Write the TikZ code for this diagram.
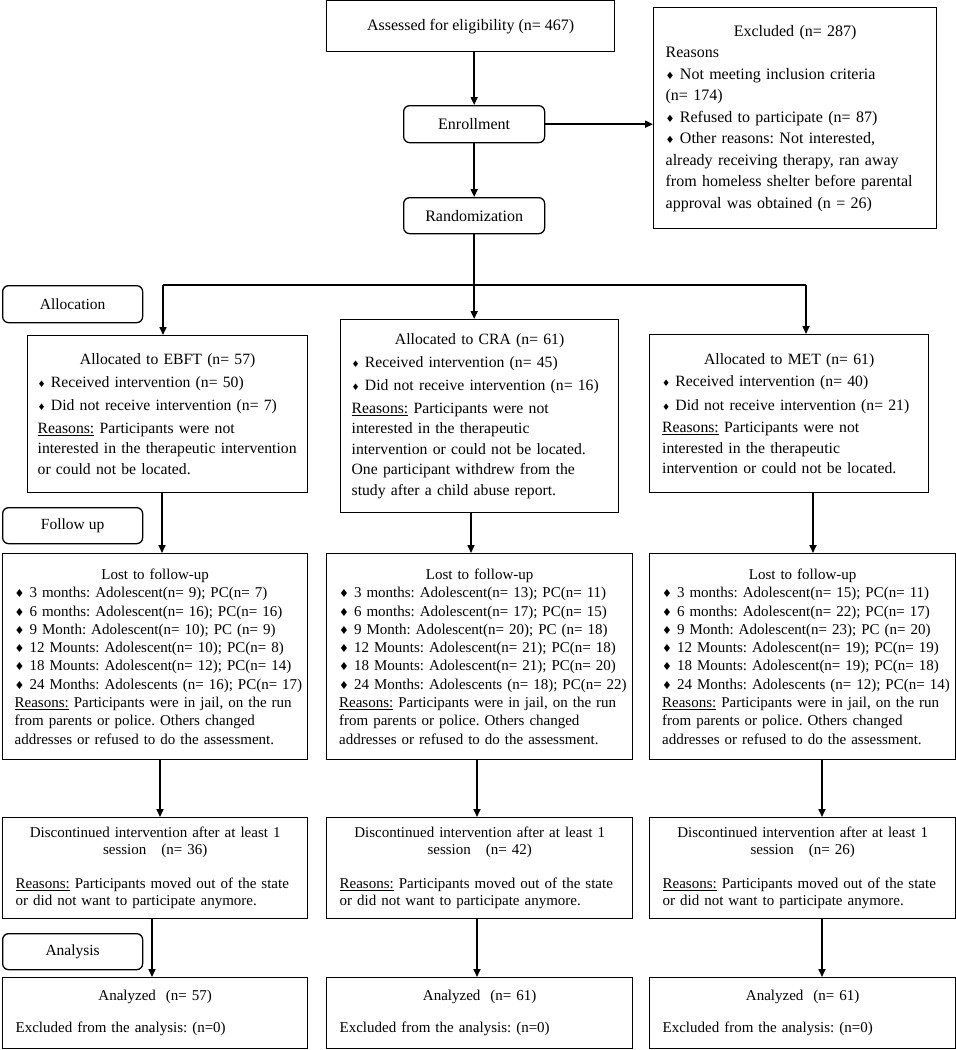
\documentclass[tikz,border=0pt]{standalone}
\usepackage{fontspec}
\setmainfont{Liberation Serif}
\newfontfamily\symf{DejaVu Sans}
\usetikzlibrary{arrows.meta}
\newcommand\dia[1]{{\symf\fontsize{#1}{#1}\selectfont ♦}}
\newcommand\cl[1]{\makebox[\linewidth]{#1}}
\frenchspacing
\begin{document}
\begin{tikzpicture}[x=1pt,y=-1pt,
 box/.style={draw,line width=1.3pt,anchor=north west,inner sep=0pt,align=left},
 lbl/.style={draw,line width=1.3pt,rounded corners=6pt,anchor=north west,inner sep=0pt,align=center,font=\fontsize{15.5}{18}\selectfont},
 arr/.style={line width=1.6pt,-{Triangle[width=7pt,length=8pt]}},
 ln/.style={line width=1.6pt},
 top/.style={font=\fontsize{16}{21.5}\selectfont},
 alc/.style={font=\fontsize{15.7}{20.5}\selectfont},
 low/.style={font=\fontsize{15}{18.3}\selectfont},
 dis/.style={font=\fontsize{15}{17}\selectfont}]
\useasboundingbox (0,0) rectangle (956,1050);

% top
\node[box,top,align=center,minimum width=288pt,minimum height=51pt] (assess) at (326,0) {Assessed for eligibility (n= 467)};
\node[box,top,minimum width=283pt,minimum height=221pt,text width=259pt] (excl) at (653,7) {%
\cl{Excluded (n= 287)}\\
Reasons\\
\dia{10} Not meeting inclusion criteria\\
(n= 174)\\
\dia{10} Refused to participate (n= 87)\\
\dia{10} Other reasons: Not interested,\\
already receiving therapy, ran away\\
from homeless shelter before parental\\
approval was obtained (n = 26)};
\node[lbl,font=\fontsize{16}{18}\selectfont,minimum width=141pt,minimum height=37pt] (enroll) at (403,105) {Enrollment};
\node[lbl,font=\fontsize{16}{18}\selectfont,minimum width=141pt,minimum height=36pt] (rand) at (403,197) {Randomization};

% allocation
\node[lbl,minimum width=140pt,minimum height=37pt] (lalloc) at (2,285) {Allocation};
\node[box,alc,minimum width=280pt,minimum height=157pt,text width=260pt] (ebft) at (27,335) {%
\cl{Allocated to EBFT (n= 57)}\\[2pt]
\dia{9} Received intervention (n= 50)\\[3pt]
\dia{9} Did not receive intervention (n= 7)\\[2pt]
\underline{Reasons:} Participants were not\\
interested in the therapeutic intervention\\
or could not be located.};
\node[box,alc,minimum width=278pt,minimum height=193pt,text width=256pt] (cra) at (340,319) {%
\cl{Allocated to CRA (n= 61)}\\[2pt]
\dia{9} Received intervention (n= 45)\\[3pt]
\dia{9} Did not receive intervention (n= 16)\\[2pt]
\underline{Reasons:} Participants were not\\
interested in the therapeutic\\
intervention or could not be located.\\
One participant withdrew from the\\
study after a child abuse report.};
\node[box,alc,minimum width=279pt,minimum height=158pt,text width=254pt] (met) at (649,334) {%
\cl{Allocated to MET (n= 61)}\\[2pt]
\dia{9} Received intervention (n= 40)\\[3pt]
\dia{9} Did not receive intervention (n= 21)\\[2pt]
\underline{Reasons:} Participants were not\\
interested in the therapeutic\\
intervention or could not be located.};

% follow up
\node[lbl,minimum width=140pt,minimum height=36pt] (lfollow) at (2,507) {Follow up};
\node[box,low,minimum width=305pt,minimum height=206pt,text width=281pt] (lost1) at (2,553) {%
\cl{Lost to follow-up}\\
\mbox{\dia{11} 3 months: Adolescent(n= 9); PC(n= 7)}\\
\mbox{\dia{11} 6 months: Adolescent(n= 16); PC(n= 16)}\\
\mbox{\dia{11} 9 Month: Adolescent(n= 10); PC (n= 9)}\\
\mbox{\dia{11} 12 Mounts: Adolescent(n= 10); PC(n= 8)}\\
\mbox{\dia{11} 18 Mounts: Adolescent(n= 12); PC(n= 14)}\\
\mbox{\dia{11} 24 Months: Adolescents (n= 16); PC(n= 17)}\\
\mbox{\underline{Reasons:} Participants were in jail, on the run}\\
from parents or police. Others changed\\
\mbox{addresses or refused to do the assessment.}};
\node[box,low,minimum width=306pt,minimum height=206pt,text width=281pt] (lost2) at (326,553) {%
\cl{Lost to follow-up}\\
\mbox{\dia{11} 3 months: Adolescent(n= 13); PC(n= 11)}\\
\mbox{\dia{11} 6 months: Adolescent(n= 17); PC(n= 15)}\\
\mbox{\dia{11} 9 Month: Adolescent(n= 20); PC (n= 18)}\\
\mbox{\dia{11} 12 Mounts: Adolescent(n= 21); PC(n= 18)}\\
\mbox{\dia{11} 18 Mounts: Adolescent(n= 21); PC(n= 20)}\\
\mbox{\dia{11} 24 Months: Adolescents (n= 18); PC(n= 22)}\\
\mbox{\underline{Reasons:} Participants were in jail, on the run}\\
from parents or police. Others changed\\
\mbox{addresses or refused to do the assessment.}};
\node[box,low,minimum width=306pt,minimum height=206pt,text width=281pt] (lost3) at (649,553) {%
\cl{Lost to follow-up}\\
\mbox{\dia{11} 3 months: Adolescent(n= 15); PC(n= 11)}\\
\mbox{\dia{11} 6 months: Adolescent(n= 22); PC(n= 17)}\\
\mbox{\dia{11} 9 Month: Adolescent(n= 23); PC (n= 20)}\\
\mbox{\dia{11} 12 Mounts: Adolescent(n= 19); PC(n= 19)}\\
\mbox{\dia{11} 18 Mounts: Adolescent(n= 19); PC(n= 18)}\\
\mbox{\dia{11} 24 Months: Adolescents (n= 12); PC(n= 14)}\\
\mbox{\underline{Reasons:} Participants were in jail, on the run}\\
from parents or police. Others changed\\
\mbox{addresses or refused to do the assessment.}};

% discontinued
\node[box,dis,minimum width=305pt,minimum height=101pt,text width=279pt] (disc1) at (2,817) {%
\cl{Discontinued intervention after at least 1}\\
\cl{session\ \ \ (n= 36)}\\[17pt]
\underline{Reasons:} Participants moved out of the state\\
or did not want to participate anymore.};
\node[box,dis,minimum width=306pt,minimum height=101pt,text width=280pt] (disc2) at (326,817) {%
\cl{Discontinued intervention after at least 1}\\
\cl{session\ \ \ (n= 42)}\\[17pt]
\underline{Reasons:} Participants moved out of the state\\
or did not want to participate anymore.};
\node[box,dis,minimum width=306pt,minimum height=101pt,text width=280pt] (disc3) at (649,817) {%
\cl{Discontinued intervention after at least 1}\\
\cl{session\ \ \ (n= 26)}\\[17pt]
\underline{Reasons:} Participants moved out of the state\\
or did not want to participate anymore.};

% analysis
\node[lbl,minimum width=140pt,minimum height=36pt] (lana) at (2,933) {Analysis};
\node[box,dis,minimum width=305pt,minimum height=71pt,text width=279pt] (ana1) at (2,977) {%
\cl{Analyzed\ \ (n= 57)}\\[15pt]
Excluded from the analysis: (n=0)};
\node[box,dis,minimum width=306pt,minimum height=71pt,text width=280pt] (ana2) at (326,977) {%
\cl{Analyzed\ \ (n= 61)}\\[15pt]
Excluded from the analysis: (n=0)};
\node[box,dis,minimum width=306pt,minimum height=71pt,text width=280pt] (ana3) at (649,977) {%
\cl{Analyzed\ \ (n= 61)}\\[15pt]
Excluded from the analysis: (n=0)};

% coordinates
\coordinate (jL) at (163,285);
\coordinate (jR) at (806,285);
\coordinate (xa1) at (162,0);
\coordinate (xa2) at (160,0);
\coordinate (xa3) at (152,0);
\coordinate (xb1) at (471,0);
\coordinate (xb2) at (477,0);
\coordinate (xc1) at (813,0);
\coordinate (xc2) at (822,0);

% connectors
\draw[arr] (assess.south -| enroll.north) -- (enroll.north);
\draw[arr] (enroll.east) -- (excl.west |- enroll.east);
\draw[arr] (enroll.south) -- (rand.north);
\draw[arr] (rand.south) -- (rand.south |- cra.north);
\draw[ln] (jL) -- (jR);
\draw[arr] (jL) -- (jL |- ebft.north);
\draw[arr] (jR) -- (jR |- met.north);

\draw[arr] (ebft.south -| xa1) -- (lost1.north -| xa1);
\draw[arr] (cra.south -| xb1) -- (lost2.north -| xb1);
\draw[arr] (met.south -| xc1) -- (lost3.north -| xc1);

\draw[arr] (lost1.south -| xa2) -- (disc1.north -| xa2);
\draw[arr] (lost2.south -| xb2) -- (disc2.north -| xb2);
\draw[arr] (lost3.south -| xc2) -- (disc3.north -| xc2);

\draw[arr] (disc1.south -| xa3) -- (ana1.north -| xa3);
\draw[arr] (disc2.south -| xb2) -- (ana2.north -| xb2);
\draw[arr] (disc3.south -| xc2) -- (ana3.north -| xc2);
\end{tikzpicture}
\end{document}
